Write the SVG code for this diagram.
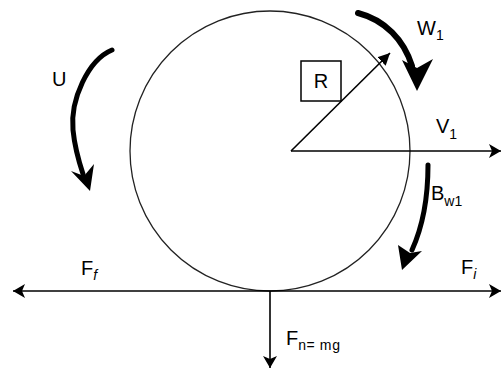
<svg xmlns="http://www.w3.org/2000/svg" width="503" height="372" viewBox="0 0 503 372">
<style>
.t{font-family:"Liberation Sans",Arial,sans-serif;font-size:20px;fill:#000}
.s{font-size:14px}
.ln{stroke:#000;stroke-width:1.6;fill:none}
.thick{stroke:#000;fill:none;stroke-linecap:round}
</style>
<defs>
<marker id="chev" markerUnits="userSpaceOnUse" markerWidth="14" markerHeight="14" refX="12" refY="7" orient="auto">
<path d="M0,0 L12,7 L0,14 L3,7 z" fill="#000"/>
</marker>
<marker id="tri" markerUnits="userSpaceOnUse" markerWidth="14" markerHeight="12" refX="12" refY="6" orient="auto">
<path d="M0,0 L12,6 L0,12 z" fill="#000"/>
</marker>
</defs>
<rect width="503" height="372" fill="#fff"/>
<g id="wheel">
<circle cx="270" cy="151" r="140" fill="none" stroke="#222" stroke-width="1.3"/>
</g>
<g id="connectors">
<line class="ln" x1="291" y1="151" x2="390" y2="53" marker-end="url(#tri)"/>
<line class="ln" x1="291" y1="151" x2="501" y2="151" marker-end="url(#chev)"/>
<line class="ln" x1="270" y1="291" x2="13" y2="291" marker-end="url(#chev)"/>
<line class="ln" x1="270" y1="291" x2="501" y2="291" marker-end="url(#chev)"/>
<line class="ln" x1="270" y1="291" x2="270" y2="368" marker-end="url(#chev)"/>
</g>
<g id="arrow-U">
<path class="thick" stroke-width="5" d="M112,50 C88,60 70,100 73,130 C75,150 79,162 83,174"/>
<path d="M90,191 L71,171 L84,176 L94,164 z" fill="#000"/>
</g>
<g id="arrow-W1">
<path class="thick" stroke-width="6" d="M358,13 C385,20 404,40 412,66"/>
<path d="M417,91 L402,60 L417,68 L433,59 z" fill="#000"/>
</g>
<g id="arrow-Bw1">
<path class="thick" stroke-width="5" d="M428,165 C428,200 422,228 412,250"/>
<path d="M402,270 L398,245 L410,253 L422,251 z" fill="#000"/>
</g>
<g id="R-box">
<rect x="301" y="61" width="40" height="40" fill="#fff" stroke="#000" stroke-width="1.5"/>
<text class="t" x="321" y="88" text-anchor="middle">R</text>
</g>
<g id="labels">
<text class="t" x="52" y="86">U</text>
<text class="t" x="417" y="35">W<tspan class="s" dy="5">1</tspan></text>
<text class="t" x="436" y="133">V<tspan class="s" dy="6">1</tspan></text>
<text class="t" x="431" y="200">B<tspan class="s" dy="6">w1</tspan></text>
<text class="t" x="461" y="274">F<tspan class="s" dy="5" font-style="italic">i</tspan></text>
<text class="t" x="81" y="275">F<tspan class="s" dy="5" font-style="italic">f</tspan></text>
<text class="t" x="286" y="345">F<tspan class="s" dy="5" font-size="15" letter-spacing="0.6">n= mg</tspan></text>
</g>
</svg>
